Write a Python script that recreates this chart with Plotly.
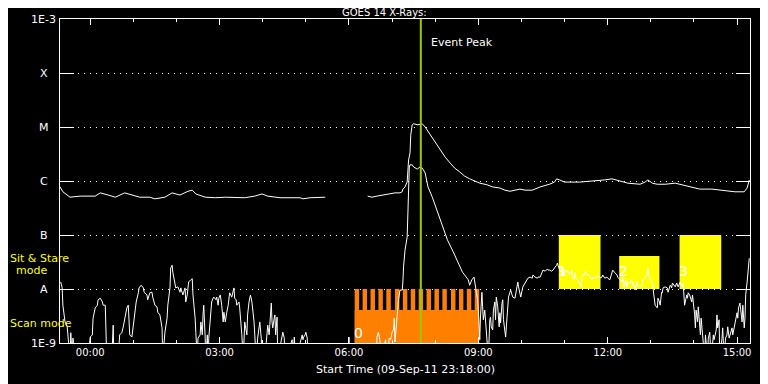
import math
import pandas as pd
import plotly.graph_objects as go

# ---------------- data ----------------
start_time = "2011-09-09 23:18:00"
window_hours = 16
title_text = "GOES 14 X-Rays:"
xlabel_text = "Start Time (09-Sep-11 23:18:00)"
flux_tickvals = [1e-9, 1e-8, 1e-7, 1e-6, 1e-5, 1e-4, 1e-3]
flux_ticklabels = ["1E-9", "A", "B", "C", "M", "X", "1E-3"]

B = -9.3  # below the 1E-9 floor
# (minutes after start, log10 flux W/m^2)
long_channel = [
    (0, -6.11), (4, -6.20), (14, -6.30), (28, -6.28), (49, -6.28), (56, -6.22), (67, -6.26), (77, -6.30),
    (90, -6.22), (100, -6.26), (111, -6.30), (125, -6.30), (132, -6.33), (146, -6.30), (156, -6.22),
    (167, -6.26), (178, -6.19), (184, -6.17), (189, -6.24), (202, -6.30), (216, -6.31), (230, -6.30),
    (243, -6.30), (257, -6.31), (271, -6.28), (281, -6.24), (289, -6.28), (306, -6.31), (320, -6.31),
    (334, -6.31), (338, -6.33), (348, -6.31), (369, -6.30),
    (428, -6.28), (434, -6.30), (441, -6.28), (449, -6.26), (455, -6.24), (466, -6.22), (473, -6.22),
    (476, -6.20), (477, -6.15), (480, -6.11), (483, -6.02), (484, -5.76), (485, -5.61), (487, -5.48),
    (488, -5.15), (490, -4.96), (492, -4.94), (498, -4.96), (504, -4.94), (508, -5.00), (511, -5.06),
    (515, -5.15), (522, -5.28), (529, -5.43), (536, -5.56), (543, -5.67), (549, -5.76), (556, -5.83),
    (563, -5.91), (570, -5.96), (577, -6.00), (584, -6.04), (594, -6.07), (602, -6.11), (612, -6.13),
    (619, -6.17), (626, -6.19), (633, -6.17), (640, -6.15), (647, -6.17), (657, -6.17), (668, -6.11),
    (674, -6.09), (681, -6.06), (688, -6.02), (691, -5.96), (695, -5.98), (702, -6.02), (723, -6.02),
    (744, -6.00), (758, -5.98), (768, -5.96), (779, -6.00), (790, -6.04), (807, -6.06), (814, -6.02),
    (818, -5.98), (824, -6.04), (831, -6.06), (842, -6.06), (856, -6.04), (862, -6.06), (869, -6.09),
    (876, -6.11), (890, -6.15), (907, -6.15), (918, -6.17), (929, -6.19), (939, -6.20), (952, -6.20),
    (956, -6.13), (959, -5.98),
]
short_channel = [
    (1, -7.87), (3, -7.98), (4, -8.30), (7, -8.61), (10, -8.70), (11, -8.85), (14, B), (15, -8.81), (17, B),
    (18, -8.91), (21, B), (39, B), (42, -8.89), (45, -8.85), (46, -8.54), (49, -8.35), (52, -8.30),
    (53, -8.20), (56, -8.17), (59, -8.24), (60, -8.30), (63, -8.30), (64, -8.67), (65, B), (72, B),
    (74, -8.67), (75, B), (81, B), (83, -8.85), (86, -8.81), (88, -8.70), (90, -8.57), (93, -8.35),
    (95, -8.30), (96, -8.72), (97, -8.85), (100, -8.89), (102, -8.67), (103, -8.48), (106, -8.24),
    (109, -8.07), (110, -7.98), (113, -7.93), (116, -7.98), (117, -8.06), (121, -8.11), (122, -8.20),
    (125, -8.07), (128, -8.06), (129, -8.15), (132, -8.30), (135, -8.33), (136, -8.43), (139, -8.48),
    (142, -8.72), (143, B), (146, -8.80), (149, -8.54), (150, -8.30), (153, -7.98), (154, -7.61),
    (156, -7.56), (157, -7.69), (159, -7.87), (161, -7.98), (164, -7.96), (167, -8.06), (168, -7.98),
    (171, -8.11), (174, -7.98), (175, -8.24), (177, -8.11), (178, -8.02), (179, -7.87), (182, -7.83),
    (184, -7.81), (185, -8.11), (186, -8.24), (188, -8.54), (189, -8.81), (191, B), (192, -8.91),
    (195, -8.85), (196, -8.61), (198, -8.85), (199, -8.48), (200, -8.30), (202, -8.91), (203, B),
    (205, -8.85), (206, B), (207, -8.91), (209, -8.61), (210, -8.44), (211, -8.24), (213, -8.17),
    (214, -8.15), (217, -8.20), (218, -8.15), (220, -8.30), (221, -8.17), (223, -8.11), (224, -8.20),
    (225, -8.30), (227, -8.61), (228, -8.43), (230, -8.61), (231, -8.48), (232, -8.43), (234, -8.30),
    (235, -8.17), (236, -8.07), (239, -8.15), (241, -8.02), (242, -7.98), (243, -8.17), (245, -8.20),
    (246, -8.30), (249, -8.24), (250, -8.35), (252, -8.61), (253, -8.85), (255, B), (256, -8.85),
    (257, -8.61), (260, -8.85), (261, -8.48), (263, -8.24), (264, -8.15), (265, -8.11), (267, -8.24),
    (268, -8.35), (270, -8.61), (271, -8.85), (273, B), (275, -8.91), (277, -8.72), (278, -8.61),
    (280, -8.91), (281, B), (285, B), (288, -8.85), (289, -8.67), (291, -8.85), (292, -8.61),
    (294, -8.26), (295, -8.61), (296, -8.72), (298, -8.54), (299, -8.48), (300, -8.85), (302, -8.52),
    (303, B), (309, -8.91), (310, -8.80), (312, -8.91), (313, B), (323, -8.94), (324, B), (326, -8.89),
    (328, B), (337, -8.85), (338, -8.94), (339, -8.89), (341, -8.85), (342, -8.80), (344, -8.91),
    (345, B), (401, B), (402, -8.89), (403, B), (440, B), (441, -8.89), (443, -8.80), (445, -8.94),
    (448, B), (453, -8.94), (455, B), (458, -8.91), (460, -8.94), (462, -8.80), (464, -8.76),
    (465, -8.54), (466, -8.98), (467, -8.76), (469, -8.52), (471, -8.20), (473, -8.02), (476, -8.02),
    (477, -7.89), (478, -7.59), (480, -7.28), (483, -7.04), (484, -6.67), (485, -6.04), (486, -5.74),
    (487, -5.70), (490, -5.70), (492, -5.74), (497, -5.78), (501, -5.74), (504, -5.76), (508, -5.85),
    (512, -6.11), (518, -6.30), (525, -6.57), (532, -6.81), (539, -7.09), (547, -7.31), (554, -7.50),
    (560, -7.69), (563, -7.74), (568, -7.83), (570, -7.93), (573, -7.83), (576, -7.78), (578, -7.98),
    (581, -8.20), (583, -8.63), (584, -8.94), (585, -8.52), (587, -8.06), (588, -8.33), (589, -8.57),
    (591, -8.39), (593, -8.76), (595, -8.94), (596, B), (598, -8.57), (599, -8.52), (600, -8.70),
    (602, -8.76), (603, -8.39), (605, -8.24), (606, -8.57), (607, -8.15), (609, -8.33), (611, -8.70),
    (612, -8.44), (613, -8.63), (615, -8.26), (616, -8.20), (617, -8.57), (619, -8.81), (620, -8.89),
    (622, -8.52), (623, -8.26), (624, -8.15), (626, -8.06), (627, -8.02), (629, -8.11), (630, -8.15),
    (633, -8.17), (634, -8.07), (636, -7.93), (637, -7.87), (638, -7.96), (640, -8.06), (641, -8.15),
    (643, -8.02), (644, -7.96), (647, -7.89), (650, -7.83), (651, -7.80), (654, -7.78), (657, -7.80),
    (658, -7.74), (661, -7.78), (664, -7.80), (665, -7.78), (668, -7.78), (671, -7.70), (672, -7.65),
    (675, -7.67), (678, -7.63), (679, -7.65), (681, -7.65), (684, -7.67), (686, -7.65), (688, -7.61),
    (691, -7.56), (692, -7.52), (694, -7.61), (697, -7.69), (698, -7.61), (699, -7.59), (701, -7.74),
    (702, -7.65), (705, -7.69), (706, -7.65), (709, -7.74), (712, -7.65), (713, -7.78), (715, -7.83),
    (716, -7.69), (718, -7.80), (720, -7.83), (722, -7.87), (725, -7.96), (726, -7.87), (727, -7.74),
    (729, -7.74), (730, -7.70), (731, -7.67), (733, -7.74), (736, -7.74), (739, -7.80), (740, -7.83),
    (741, -7.78), (744, -7.80), (747, -7.78), (748, -7.74), (751, -7.80), (754, -7.78), (755, -7.74),
    (758, -7.80), (761, -7.78), (762, -7.80), (765, -7.83), (768, -7.70), (769, -7.65), (772, -7.70),
    (775, -7.74), (776, -7.78), (779, -7.83), (782, -7.87), (783, -7.78), (785, -7.98), (787, -7.83),
    (789, -7.96), (790, -7.87), (793, -7.89), (795, -7.83), (797, -7.93), (798, -7.89), (800, -8.02),
    (803, -7.87), (804, -7.93), (807, -7.96), (810, -7.93), (811, -7.83), (814, -7.80), (817, -7.74),
    (818, -7.61), (820, -7.78), (821, -7.83), (824, -7.87), (825, -7.98), (827, -8.11), (828, -8.30),
    (831, -8.35), (832, -8.17), (834, -8.24), (835, -8.30), (837, -8.06), (838, -8.07), (839, -7.98),
    (842, -7.96), (845, -7.98), (846, -8.06), (849, -7.93), (851, -7.98), (852, -7.89), (856, -7.96),
    (858, -7.89), (860, -7.96), (863, -7.87), (865, -7.96), (867, -7.89), (869, -8.30), (872, -8.11),
    (873, -8.17), (874, -8.07), (876, -8.11), (879, -8.24), (880, -8.11), (883, -8.48), (884, -8.72),
    (885, -8.39), (887, -8.61), (888, -8.33), (890, -8.61), (891, -8.85), (892, -8.54), (894, -8.80),
    (895, -8.91), (897, B), (898, -8.85), (901, B), (902, -8.91), (904, -8.80), (906, B), (909, -8.85),
    (910, -8.94), (913, -8.76), (914, -8.48), (915, -8.72), (917, -8.57), (918, B), (921, -8.91),
    (922, -8.72), (924, B), (926, -8.91), (928, -8.85), (929, -8.70), (931, -8.91), (933, -8.80),
    (935, -8.72), (936, -8.85), (939, -8.61), (942, -8.44), (943, -8.54), (944, -8.35), (946, -8.26),
    (947, -8.43), (949, -8.61), (950, -8.30), (952, -8.72), (953, -8.54), (954, -8.11), (956, -7.87),
    (957, -7.69), (959, -7.43),
]

event_peak = "2011-09-10 07:40"
event_label = "Event Peak"

scan_label = "0"
scan_block_start = "2011-09-10 06:08"
scan_block_end = "2011-09-10 09:01"
scan_base_logflux = -8.39
scan_top_flux = 1e-8
scan_raster_starts = ["06:08", "06:19", "06:30", "06:41", "06:52", "07:04", "07:15", "07:26",
                      "07:37", "07:48", "07:59", "08:10", "08:22", "08:33", "08:44", "08:55"]
scan_raster_minutes = 6.2

sit_stare_starts = ["10:52", "12:16", "13:40"]
sit_stare_ends = ["11:50", "13:12", "14:38"]
sit_stare_top_logflux = [-7.0, -7.39, -7.0]
sit_stare_labels = ["1", "2", "3"]
sit_stare_bottom_flux = 1e-8

label_logflux_sit = -7.67
label_logflux_scan = -8.81

# ---------------- build ----------------
t0 = pd.Timestamp(start_time)
t_end = t0 + pd.Timedelta(hours=window_hours)
day = "2011-09-10 "


def expand(series, gap_minutes=30):
    xs, ys = [], []
    prev = None
    for m, lf in series:
        if prev is not None and m - prev > gap_minutes:
            xs.append(None)
            ys.append(None)
        xs.append(t0 + pd.Timedelta(minutes=m))
        ys.append(10 ** lf)
        prev = m
    return xs, ys


lx, ly = expand(long_channel)
sx, sy = expand(short_channel)

fig = go.Figure()
fig.add_trace(go.Scatter(x=sx, y=sy, mode="lines", line=dict(color="white", width=1),
                         hoverinfo="skip", showlegend=False))
fig.add_trace(go.Scatter(x=lx, y=ly, mode="lines", line=dict(color="white", width=1),
                         hoverinfo="skip", showlegend=False))

ORANGE = "#FF8000"
YELLOW = "#FFFF00"
shapes = []
shapes.append(dict(type="rect", xref="x", yref="y", x0=scan_block_start, x1=scan_block_end,
                   y0=flux_tickvals[0], y1=10 ** scan_base_logflux, fillcolor=ORANGE,
                   line=dict(width=0), layer="between"))
for s in scan_raster_starts:
    ts = pd.Timestamp(day + s)
    shapes.append(dict(type="rect", xref="x", yref="y", x0=ts,
                       x1=ts + pd.Timedelta(minutes=scan_raster_minutes),
                       y0=flux_tickvals[0], y1=scan_top_flux, fillcolor=ORANGE,
                       line=dict(width=0), layer="between"))
for s, e, top in zip(sit_stare_starts, sit_stare_ends, sit_stare_top_logflux):
    shapes.append(dict(type="rect", xref="x", yref="y", x0=day + s, x1=day + e,
                       y0=sit_stare_bottom_flux, y1=10 ** top, fillcolor=YELLOW,
                       line=dict(width=0), layer="between"))
shapes.append(dict(type="line", xref="x", yref="paper", x0=event_peak, x1=event_peak, y0=0, y1=1,
                   line=dict(color="#99CC00", width=2), layer="above"))

FONT = "DejaVu Sans"
ann = []
ann.append(dict(text=title_text, xref="paper", yref="paper", x=0.4696, y=1.0, yshift=-1,
                xanchor="center", yanchor="bottom", showarrow=False,
                font=dict(family=FONT, size=10, color="white")))
ann.append(dict(text=xlabel_text, xref="paper", yref="paper", x=0.5, y=-0.083,
                xanchor="center", yanchor="middle", showarrow=False,
                font=dict(family=FONT, size=11, color="white")))
for v, lab in zip(flux_tickvals, flux_ticklabels):
    ann.append(dict(text=lab, xref="paper", yref="y", x=-0.0232, y=math.log10(v),
                    xanchor="center", yanchor="middle", showarrow=False,
                    font=dict(family=FONT, size=11, color="white")))
ann.append(dict(text="Sit & Stare", xref="paper", yref="paper", x=-0.0754, y=0.2623,
                xanchor="left", yanchor="middle", showarrow=False,
                font=dict(family=FONT, size=11, color=YELLOW)))
ann.append(dict(text="mode", xref="paper", yref="paper", x=-0.0667, y=0.2253,
                xanchor="left", yanchor="middle", showarrow=False,
                font=dict(family=FONT, size=11, color=YELLOW)))
ann.append(dict(text="Scan mode", xref="paper", yref="paper", x=-0.0754, y=0.0617,
                xanchor="left", yanchor="middle", showarrow=False,
                font=dict(family=FONT, size=11, color=YELLOW)))
ann.append(dict(text=event_label, xref="x", yref="paper", x=event_peak, y=0.926, xshift=8,
                xanchor="left", yanchor="middle", showarrow=False,
                font=dict(family=FONT, size=11, color="white")))
ann.append(dict(text=scan_label, xref="x", yref="y", x=scan_block_start, y=label_logflux_scan,
                xshift=4, xanchor="center", yanchor="middle", showarrow=False,
                font=dict(family=FONT, size=14, color="white")))
for s, lab in zip(sit_stare_starts, sit_stare_labels):
    ann.append(dict(text=lab, xref="x", yref="y", x=day + s, y=label_logflux_sit,
                    xshift=4, xanchor="center", yanchor="middle", showarrow=False,
                    font=dict(family=FONT, size=14, color="white")))

# the page adds an 8px body margin, so the figure is sized to fill the rest of the window
fig.update_layout(
    width=760, height=376,
    margin=dict(l=52, r=18, t=11, b=41),
    paper_bgcolor="black", plot_bgcolor="black",
    showlegend=False,
    shapes=shapes, annotations=ann,
    font=dict(family=FONT, color="white", size=10),
)
fig.update_xaxes(
    type="date", range=[t0, t_end],
    showline=True, linecolor="white", linewidth=1, mirror="allticks",
    ticks="inside", ticklen=6, tickwidth=1, tickcolor="white",
    tick0="2011-09-10 00:00", dtick=3 * 3600 * 1000, tickformat="%H:%M",
    tickfont=dict(family=FONT, size=10, color="white"),
    showgrid=False, zeroline=False,
    minor=dict(dtick=3600 * 1000, ticks="inside", ticklen=3, tickcolor="white", showgrid=False),
)
fig.update_yaxes(
    type="log", range=[-9, -3],
    tickvals=flux_tickvals, showticklabels=False,
    showline=True, linecolor="white", linewidth=1, mirror="allticks",
    ticks="inside", ticklen=14, tickwidth=1, tickcolor="white",
    showgrid=True, gridcolor="white", gridwidth=1, griddash="1px,5px",
    zeroline=False,
)

fig.write_html("out.html")
